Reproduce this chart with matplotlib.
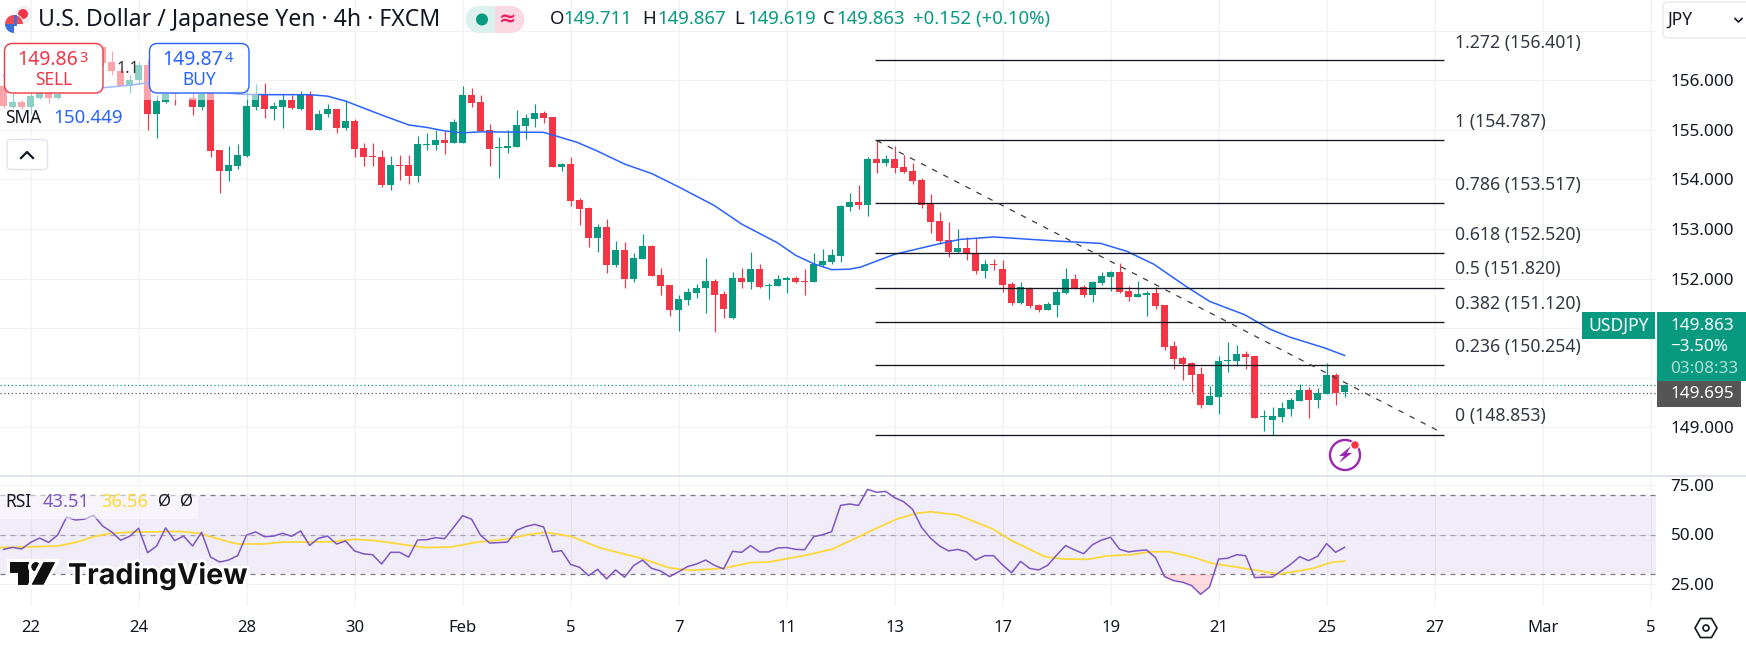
import numpy as np
import matplotlib
matplotlib.use("Agg")
import matplotlib.pyplot as plt
from matplotlib.patches import Rectangle, FancyBboxPatch, Circle, Polygon, RegularPolygon, Wedge
import matplotlib.patheffects as pe

nan = float("nan")

# ---- data: 4h USD/JPY candles, first bar index is -3 (index 0 = the "22" tick) ----
first_bar = -3
opens = [155.88,155.47,155.57,155.47,155.65,155.75,155.65,nan,nan,nan,nan,156.67,156.37,156.18,155.88,156.00,156.30,155.32,155.57,155.80,nan,155.65,155.47,155.85,
 154.59,154.17,154.28,154.47,155.47,155.70,155.42,155.47,155.60,155.43,155.70,155.00,155.32,155.42,155.04,155.18,154.63,154.47,154.46,153.89,154.29,154.29,154.07,154.69,154.69,154.80,154.74,
 154.74,155.70,155.56,154.99,154.63,154.64,154.65,155.07,155.22,155.34,155.26,154.25,154.31,153.59,153.43,152.82,153.04,152.28,152.58,152.00,152.40,152.66,152.08,151.88,151.36,151.56,151.70,151.80,151.96,151.68,151.20,152.02,151.94,152.20,151.86,151.86,151.98,152.02,151.96,151.94,152.28,152.34,152.46,153.45,153.55,153.49,
 154.42,154.34,154.42,154.26,154.18,153.98,153.50,153.16,152.78,152.54,152.62,152.52,152.16,152.30,152.20,151.90,151.51,151.81,151.47,151.37,151.47,151.71,151.99,151.83,151.67,151.91,152.03,152.13,151.75,151.63,151.67,151.71,
 151.46,150.63,150.39,150.29,150.07,149.45,149.61,150.33,150.33,150.47,150.43,149.21,149.15,149.21,149.37,149.53,149.75,149.55,149.67,150.05,149.711]
highs = [155.95,155.74,155.60,155.75,155.85,155.90,155.85,nan,nan,nan,nan,156.70,156.60,156.25,156.10,156.37,156.40,155.70,155.80,155.90,nan,155.75,155.80,155.95,
 154.59,154.68,154.71,155.95,155.93,155.95,155.57,155.73,155.70,155.79,155.79,155.40,155.52,155.43,155.60,155.22,154.73,154.73,154.59,154.47,154.49,154.49,154.88,154.93,155.00,154.98,155.22,
 155.88,155.85,155.70,155.11,154.85,155.00,155.40,155.32,155.52,155.38,155.26,154.33,154.45,153.63,153.45,153.10,153.20,152.76,152.74,152.52,152.90,152.68,152.22,151.88,151.66,151.80,151.90,152.42,152.00,151.74,152.14,152.22,152.54,152.30,151.92,152.08,152.06,152.06,152.20,152.52,152.60,152.60,153.49,153.73,153.89,154.45,
 154.80,154.50,154.68,154.50,154.34,154.02,153.70,153.34,153.14,153.00,152.84,152.82,152.38,152.40,152.38,151.94,151.94,151.83,151.49,151.53,151.79,152.22,152.09,151.87,151.95,152.13,152.15,152.31,151.85,151.95,151.75,151.83,
 151.46,150.75,150.43,150.31,150.21,149.83,150.43,150.73,150.65,150.53,150.43,149.35,149.41,149.51,149.59,149.87,149.81,149.79,150.29,150.09,149.867]
lows = [155.45,155.45,155.43,155.33,155.62,155.55,155.63,nan,nan,nan,nan,156.30,156.10,155.88,155.75,155.95,155.00,154.84,155.55,155.50,nan,155.29,155.40,154.46,
 153.72,153.96,154.21,154.45,155.40,155.24,155.20,155.04,155.43,155.41,155.00,155.00,155.26,154.94,155.00,154.45,154.28,154.28,153.84,153.79,153.99,153.91,153.94,154.59,154.59,154.51,154.74,
 154.74,155.46,154.97,154.28,154.02,154.54,154.65,154.81,155.05,155.13,154.26,154.17,153.47,153.08,152.64,152.54,152.12,152.24,151.82,151.94,152.40,152.06,151.66,151.24,150.95,151.46,151.60,151.30,150.93,151.20,151.18,151.82,151.78,151.82,151.58,151.86,151.70,151.92,151.66,151.94,152.24,152.30,152.34,153.37,153.41,153.27,
 154.14,154.28,154.12,154.14,153.90,153.43,152.92,152.70,152.44,152.52,152.38,152.10,152.02,152.18,151.73,151.47,151.49,151.41,151.33,151.37,151.23,151.69,151.79,151.63,151.53,151.87,151.75,151.71,151.55,151.63,151.25,151.39,
 150.55,150.17,149.95,149.71,149.39,149.45,149.27,150.11,150.23,150.17,149.19,148.92,148.84,149.11,149.23,149.53,149.19,149.39,149.67,149.45,149.619]
closes = [155.48,155.57,155.47,155.68,155.75,155.65,155.73,nan,nan,nan,nan,156.35,156.18,155.88,156.00,156.30,155.32,155.58,155.73,155.72,nan,155.47,155.73,154.58,
 154.17,154.29,154.49,155.48,155.70,155.42,155.48,155.60,155.45,155.70,155.00,155.33,155.42,155.04,155.18,154.61,154.45,154.45,153.89,154.29,154.28,154.07,154.71,154.71,154.80,154.73,155.16,
 155.70,155.54,154.97,154.62,154.65,154.67,155.09,155.24,155.34,155.24,154.26,154.31,153.57,153.41,152.82,153.04,152.28,152.58,152.00,152.42,152.66,152.06,151.86,151.36,151.58,151.72,151.82,151.96,151.66,151.38,152.02,151.94,152.20,151.84,151.88,152.00,152.02,151.94,151.94,152.30,152.36,152.48,153.47,153.55,153.49,154.41,
 154.34,154.42,154.24,154.16,153.96,153.49,153.14,152.76,152.54,152.62,152.50,152.16,152.30,152.28,151.88,151.51,151.83,151.45,151.37,151.49,151.73,151.99,151.81,151.67,151.93,152.05,152.13,151.73,151.63,151.69,151.71,151.45,
 150.61,150.37,150.27,150.05,149.45,149.63,150.33,150.35,150.47,150.41,149.19,149.23,149.23,149.39,149.55,149.75,149.55,149.69,150.05,149.69,149.863]

sma_bars = [-3,8,11,13,23,26,31,33,35,39,42,44,46,48,50,57,58.5,60.7,63,66,69,72,76,79,83,85,87,89,91,92.2,96,101.4,103.3,107,113.7,118.9,121.8,124.8,128.4,131,134.9,137.7,139.9,143.8,146]
sma_vals = [156.10,155.85,155.90,155.95,155.72,155.71,155.71,155.68,155.58,155.30,155.10,155.05,154.98,154.94,154.96,154.95,154.87,154.75,154.57,154.31,154.12,153.85,153.47,153.10,152.72,152.47,152.30,152.18,152.19,152.23,152.49,152.72,152.79,152.84,152.76,152.71,152.55,152.29,151.84,151.54,151.27,150.98,150.82,150.60,150.449]

rsi_vals = [42.5,43.5,42.7,46.0,48.2,46.0,49.7,58.8,57.3,57.8,59.7,54.3,51.3,47.1,49.1,53.1,40.8,44.2,53.3,46.9,49.2,44.2,51.1,38.6,36.1,37.1,39.3,49.7,51.3,48.9,49.2,50.6,49.1,51.8,44.5,48.1,49.2,45.2,46.7,41.7,40.2,39.8,35.1,41.0,41.0,38.6,47.2,47.4,48.4,47.9,53.6,
 59.5,57.7,49.6,45.7,45.9,46.2,52.1,54.0,55.1,53.8,41.2,41.8,34.9,33.4,29.2,32.4,27.5,32.1,28.4,34.3,37.1,32.9,31.6,28.7,31.2,33.8,35.1,37.1,34.4,32.6,41.5,41.0,44.4,41.2,41.2,43.2,43.4,42.5,42.3,48.9,49.9,51.4,64.7,65.4,64.7,72.8,
 71.3,71.8,68.6,66.6,62.7,53.6,48.1,44.2,41.7,42.5,41.2,37.1,39.3,39.3,34.6,30.7,36.4,32.9,32.1,34.4,39.6,44.4,42.2,40.3,44.9,47.2,48.6,42.5,41.2,41.8,42.2,38.3,
 28.7,26.7,25.9,24.2,19.8,23.5,37.6,38.0,39.8,39.3,28.2,28.4,28.5,31.7,34.9,38.8,36.8,39.0,45.4,41.0,43.51]

rsi_ma_bars = [-3.4,1,3,5,7,9,11.5,13.6,16.6,18.7,21,23,26,28,31,33.6,36,38.3,41,43.8,46.8,49.4,52.8,55.3,57.2,60,63.3,65.9,68,71,73.4,77,80,82,86.1,89,91,93.6,96.2,98.4,100,103,106.9,109,112.7,114.8,117.5,119.6,122.3,124.4,126.5,129.2,131.3,134.5,138.8,142.5,144.6,146]
rsi_ma_vals = [43.4,43.9,44.2,46.0,48.9,50.6,51.3,51.3,51.6,50.6,47.6,45.2,45.2,46.2,46.2,46.4,47.6,46.9,45.2,43.4,43.7,46.0,47.6,49.9,51.1,49.1,43.2,40.2,37.8,33.1,31.9,32.9,35.8,36.1,39.5,42.5,46.7,52.3,57.7,60.7,61.5,59.9,52.8,46.9,38.8,37.6,37.5,39.2,39.8,41.3,41.3,38.5,35.4,33.2,30.0,32.9,36.0,36.56]

fib_levels = ["1.272","1","0.786","0.618","0.5","0.382","0.236","0"]
fib_prices = [156.401,154.787,153.517,152.520,151.820,151.120,150.254,148.853]
fib_start_bar = 93.8
fib_end_bar = 157
trend_bars = [94,156.4]
trend_prices = [154.787,148.93]

last_price = 149.863
pre_price = 149.695

price_ticks = [149,150,151,152,153,154,155,156,157]
price_tick_labels = ["149.000","","","152.000","153.000","154.000","155.000","156.000",""]
rsi_ticks = [25,50,75]
rsi_tick_labels = ["25.00","50.00","75.00"]
time_ticks = [0,12,24,36,48,60,72,84,96,108,120,132,144,156,168,180]
time_labels = ["22","24","28","30","Feb","5","7","11","13","17","19","21","25","27","Mar","5"]

# ---- style ----
W, H = 1746, 645
GREEN, RED, BLUE = "#089981", "#F23645", "#2962FF"
INK = "#131722"
GRID = "#F1F2F4"
PURPLE = "#7E57C2"
YELLOW = "#FDD835"
plt.rcParams["font.family"] = ["Noto Sans", "DejaVu Sans"]

fig = plt.figure(figsize=(W/100, H/100), dpi=100, facecolor="white")
def pane(x0, y0, x1, y1, **kw):
    return fig.add_axes([x0/W, 1-y1/H, (x1-x0)/W, (y1-y0)/H], **kw)

xlim = (-30.6/9, (1656-30.6)/9)
ax = pane(0, 0, 1656, 475)
ax.set_xlim(*xlim)
ax.set_ylim(156-(475-80.3)/49.57, 156+80.3/49.57)
rs = pane(0, 476, 1656, 606)
rs.set_xlim(*xlim)
rs.set_ylim(50-71.5/1.98, 50+58.5/1.98)

for a in (ax, rs):
    for s in a.spines.values():
        s.set_visible(False)
    a.yaxis.tick_right()
    a.tick_params(length=0, colors=INK)
    a.grid(True, color=GRID, lw=0.8, zorder=0)
    a.set_axisbelow(True)
    a.set_xticks(time_ticks)
ax.tick_params(labelbottom=False)
ax.set_yticks(price_ticks, price_tick_labels, fontsize=12.3)
ax.tick_params(axis="y", pad=10.5)
rs.set_yticks(rsi_ticks, rsi_tick_labels, fontsize=12.3)
rs.tick_params(axis="y", pad=10.5)
rs.set_xticklabels(time_labels, fontsize=12)
rs.tick_params(axis="x", pad=10)
for t in rs.get_xticklabels():
    if t.get_text() in ("Feb", "Mar"):
        t.set_fontweight("bold")

# candles
o, h, l, c = map(np.array, (opens, highs, lows, closes))
idx = np.arange(first_bar, first_bar+len(o))
cols = [GREEN if ci >= oi else RED for oi, ci in zip(o, c)]
ax.vlines(idx, l, h, colors=cols, lw=0.85, zorder=3)
ax.bar(idx, np.abs(c-o), bottom=np.minimum(o, c), width=0.78, color=cols, lw=0, zorder=4)

# SMA
ax.plot(sma_bars, sma_vals, color=BLUE, lw=1.1, zorder=5, solid_joinstyle="round")

# fib + trend
ax.hlines(fib_prices, fib_start_bar, fib_end_bar, color="#131722", lw=0.95, zorder=6)
ax.plot(trend_bars, trend_prices, color="#3b3b3b", lw=0.9, ls=(0, (4.5, 5.5)), zorder=6)

# last price lines
ax.axhline(last_price, color=GREEN, lw=0.9, ls=(0, (1, 2)), zorder=2)
ax.axhline(pre_price, color="#555555", lw=0.9, ls=(0, (1, 2)), zorder=2)

# RSI pane
rs.axhspan(30, 70, color=PURPLE, alpha=0.11, lw=0, zorder=1)
rs.axhline(70, color="#787B86", lw=0.9, ls=(0, (4, 4)), zorder=2)
rs.axhline(50, color="#787B86", lw=0.9, ls=(0, (4, 4)), alpha=0.6, zorder=2)
rs.axhline(30, color="#787B86", lw=0.9, ls=(0, (4, 4)), zorder=2)
rsi_idx = np.arange(first_bar, first_bar+len(rsi_vals))
rsi_arr = np.array(rsi_vals)
rs.fill_between(rsi_idx, rsi_arr, 30, where=rsi_arr < 30, interpolate=True, color=RED, alpha=0.18, lw=0, zorder=2)
rs.plot(rsi_idx, rsi_arr, color=PURPLE, lw=1.1, zorder=4)
rs.plot(rsi_ma_bars, rsi_ma_vals, color=YELLOW, lw=1.25, zorder=3)

# ---- overlay in pixel coordinates ----
ov = fig.add_axes([0, 0, 1, 1], facecolor="none", zorder=10)
ov.set_xlim(0, W); ov.set_ylim(H, 0); ov.axis("off")

def T(x, y, s, color=INK, size=12, ha="left", va="center", weight="normal", **kw):
    return ov.text(x, y, s, color=color, fontsize=size, ha=ha, va=va, fontweight=weight, **kw)
def R(x0, y0, x1, y1, fc="white", ec="none", lw=0, alpha=None, z=1):
    ov.add_patch(Rectangle((x0, y0), x1-x0, y1-y0, fc=fc, ec=ec, lw=lw, alpha=alpha, zorder=z))
def RR(x0, y0, x1, y1, rad, fc="white", ec="none", lw=1, z=3):
    ov.add_patch(FancyBboxPatch((x0+rad, y0+rad), x1-x0-2*rad, y1-y0-2*rad,
                 boxstyle=f"round,pad={rad},rounding_size={rad}", fc=fc, ec=ec, lw=lw, zorder=z))

# pane separator
R(0, 475, W, 477, fc="#E0E3EB", z=2)

# legend veil
R(0, 38, 258, 100, alpha=0.55)
R(0, 100, 132, 124, alpha=0.55)
R(0, 486, 198, 519, alpha=0.5)

# header: flag + title
ov.add_patch(Circle((23.5, 14.5), 8.5, fc="#EEF0F4", ec="none", zorder=3))
ov.add_patch(Circle((23, 14), 5, fc=RED, ec="none", zorder=3))
ov.add_patch(Circle((14, 24), 10, fc="white", ec="none", zorder=4))
ov.add_patch(Wedge((14, 24), 9, 180, 360, fc="#EE4B55", ec="none", zorder=5))
ov.add_patch(Rectangle((5, 27), 18, 1.6, fc="white", ec="none", zorder=6))
ov.add_patch(Wedge((14, 24), 9, 90, 180, fc="#3F6FD8", ec="none", zorder=6))
ov.add_patch(Rectangle((5.4, 24), 11.2, 2.2, fc="#3F6FD8", ec="none", zorder=6))
ov.add_patch(Rectangle((14, 15.4), 2.6, 8.8, fc="#3F6FD8", ec="none", zorder=6))
ov.add_patch(Rectangle((17, 19.5), 5, 1.6, fc="#EE4B55", ec="none", zorder=6))
T(38, 20, "U.S. Dollar / Japanese Yen · 4h · FXCM", size=16.6, zorder=7)
ov.add_patch(Circle((479, 19.5), 13.5, fc="#DCF1EE", ec="none", zorder=3))
R(479, 6, 494.5, 33, fc="#DCF1EE", z=3)
R(494.5, 6, 511, 33, fc="#FBD9E3", z=3)
ov.add_patch(Circle((511, 19.5), 13.5, fc="#FBD9E3", ec="none", zorder=3))
ov.add_patch(Circle((482, 19.5), 6, fc=GREEN, ec="none", zorder=5))
T(508, 20, "≈", color="#E91E63", size=15, ha="center", weight="bold", zorder=5)
for xl, lab, xv, val in [(549.5, "O", 563, "149.711"), (642.5, "H", 657, "149.867"),
                         (734.5, "L", 747, "149.619"), (822.5, "C", 836, "149.863")]:
    T(xl, 19, lab, size=13.4, zorder=5)
    T(xv, 19, val, color=GREEN, size=13.4, zorder=5)
T(913, 19, "+0.152 (+0.10%)", color=GREEN, size=13.4, zorder=5)

# sell / buy
RR(4.5, 43.5, 103, 93, 8, ec=RED, lw=1)
RR(149.5, 43.5, 249, 93, 8, ec=BLUE, lw=1)
T(48, 60, "149.86", color=RED, size=14, ha="center", weight="bold", zorder=5)
T(84, 59, "3", color=RED, size=10.5, ha="center", weight="bold", zorder=5)
T(54, 80, "SELL", color=RED, size=12.5, ha="center", zorder=5)
T(193, 60, "149.87", color=BLUE, size=14, ha="center", weight="bold", zorder=5)
T(229, 59, "4", color=BLUE, size=10.5, ha="center", weight="bold", zorder=5)
T(199, 80, "BUY", color=BLUE, size=12.5, ha="center", zorder=5)
T(117, 69, "1.1", color="#333333", size=11.5, zorder=2)

# SMA legend + collapse button
T(5, 118, "SMA", size=12.5, zorder=5)
T(53, 118, "150.449", color=BLUE, size=13.5, zorder=5)
RR(7, 139.5, 47.5, 169.5, 4, ec="#E0E3EB", lw=1)
ov.plot([21, 27, 33], [158, 152, 158], color=INK, lw=1.6, zorder=5)

# fib labels
for lev, pr, y in zip(fib_levels, fib_prices, [43, 122, 185, 235, 269, 304, 347, 416]):
    T(1455, y, f"{lev} ({pr:.3f})", color="#333842", size=12.7, zorder=5)

# bolt marker
cx, cy = 1345, 455
ov.add_patch(Circle((cx, cy), 15, fc="white", ec="#9C27B0", lw=1.7, zorder=5))
ov.add_patch(Polygon([(cx+6, cy-9), (cx-6, cy+1), (cx-1, cy+1), (cx-6, cy+8), (cx+7, cy-2), (cx+2, cy-2)],
                     fc="#9C27B0", ec="none", zorder=6))
ov.add_patch(Circle((cx+10, cy-10), 4.3, fc=RED, ec="white", lw=0.8, zorder=7))

# right-hand tags
R(1582, 312, 1655, 339, fc=GREEN, z=3)
T(1618.5, 325.5, "USDJPY", color="white", size=12.6, ha="center", zorder=5)
R(1657, 312, W, 381, fc=GREEN, z=3)
T(1670, 326, "149.863", color="white", size=12.3, zorder=5)
T(1670, 347, "−3.50%", color="white", size=12.3, zorder=5)
T(1670, 369, "03:08:33", color="#AEDED6", size=12.3, zorder=5)
R(1657, 381, 1741, 407, fc="#555555", z=3)
T(1670, 394, "149.695", color="white", size=12.3, zorder=5)

# currency button
RR(1663, 2, 1760, 38, 5, ec="#E8EAEE", lw=1)
T(1667, 20, "JPY", size=12.5, zorder=5)
ov.plot([1735, 1738.5, 1742], [18.5, 22, 18.5], color=INK, lw=1.2, zorder=5)

# settings hexagon
ov.add_patch(RegularPolygon((1706, 628), 6, radius=11, orientation=np.pi/6, fc="white", ec=INK, lw=1.2, zorder=5))
ov.add_patch(Circle((1706, 628), 3, fc="white", ec=INK, lw=1.2, zorder=6))

# RSI legend
T(5, 502, "RSI", size=12.5, zorder=5)
T(43, 502, "43.51", color=PURPLE, size=13.2, zorder=5)
T(101, 502, "36.56", color=YELLOW, size=13.2, zorder=5)
T(158, 502, "Ø", size=12, zorder=5)
T(180, 502, "Ø", size=12, zorder=5)

# TradingView logo
ink = "#111111"
for shape in [Polygon([(10, 562.3), (29, 562.3), (29, 584.5), (18, 584.5), (18, 573), (10, 573)], fc=ink),
              Circle((36, 566.8), 4.5, fc=ink),
              Polygon([(43.5, 562.3), (55, 562.3), (43.5, 584.5), (31.8, 584.5)], fc=ink)]:
    shape.set_edgecolor("none")
    shape.set_zorder(6)
    shape.set_path_effects([pe.withStroke(linewidth=5, foreground="white"), pe.Normal()])
    ov.add_patch(shape)
t = ov.text(68, 584, "TradingView", color=ink, fontsize=20.6, fontfamily="Inter", fontweight="bold",
            va="baseline", zorder=6)
t.set_path_effects([pe.withStroke(linewidth=4, foreground="white")])

fig.savefig("out.png", dpi=100, facecolor="white")
